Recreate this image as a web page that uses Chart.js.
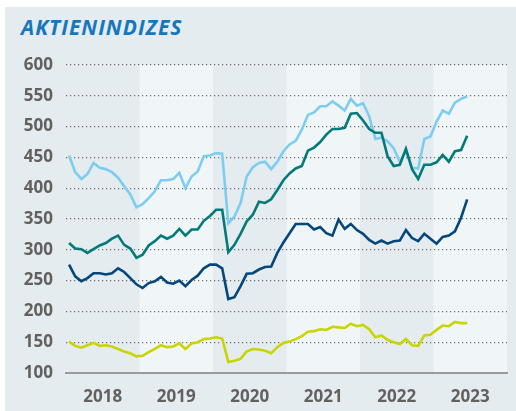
<!DOCTYPE html>
<html lang="de">
<head>
  <meta charset="UTF-8" />
  <title>Aktienindizes</title>
  <script src="https://cdn.jsdelivr.net/npm/chart.js"></script>
  <style>
    html, body { margin: 0; padding: 0; background: #ffffff; }
    body { width: 516px; height: 411px; position: relative; overflow: hidden; }
    .panel {
      position: absolute;
      left: 5px; top: 7px;
      width: 511px; height: 404px;
      background: #e4ecf0;
    }
    h1 {
      position: absolute;
      left: 21px; top: 17px;
      margin: 0;
      font: italic bold 21px "Open Sans", sans-serif;
      line-height: 21px;
      letter-spacing: 1px;
      color: #1677bd;
    }
    #chart { position: absolute; left: 0; top: 0; }
  </style>
</head>
<body>
  <div class="panel"></div>
  <h1>AKTIENINDIZES</h1>
  <canvas id="chart" width="516" height="411"></canvas>

  <script>
    // Monatswerte Jan 2018 bis Jun 2023
    const jahre = ["2018", "2019", "2020", "2021", "2022", "2023"];

    const hellblau = [
      453, 426, 415, 423, 441, 433, 431, 426, 417, 403, 390, 369,
      374, 384, 395, 413, 413, 415, 425, 400, 419, 427, 452, 453,
      457, 456, 343, 354, 376, 419, 434, 441, 443, 431, 443, 460,
      471, 477, 495, 519, 523, 533, 533, 541, 534, 526, 545, 534,
      538, 517, 480, 482, 476, 465, 443, 460, 433, 432, 480, 484,
      508, 526, 521, 539, 545, 549
    ];
    const petrol = [
      311, 302, 301, 295, 301, 307, 311, 318, 323, 308, 302, 287,
      292, 307, 314, 323, 318, 323, 334, 323, 333, 333, 347, 355,
      365, 365, 296, 308, 326, 346, 357, 378, 376, 382, 397, 413,
      424, 432, 436, 461, 466, 475, 487, 496, 496, 498, 521, 522,
      510, 496, 490, 490, 452, 436, 438, 464, 431, 415, 438, 438,
      442, 454, 443, 460, 462, 485
    ];
    const dunkelblau = [
      276, 257, 249, 254, 262, 262, 260, 262, 270, 264, 254, 244,
      238, 246, 249, 256, 247, 245, 250, 241, 251, 258, 270, 276,
      276, 270, 220, 223, 241, 261, 262, 268, 272, 273, 295, 312,
      327, 342, 342, 342, 333, 337, 327, 323, 349, 334, 342, 332,
      326, 316, 310, 315, 310, 314, 315, 332, 319, 314, 326, 318,
      310, 321, 323, 330, 352, 382
    ];
    const gelbgruen = [
      151, 144, 141, 145, 149, 144, 145, 143, 139, 135, 132, 127,
      128, 134, 139, 145, 142, 143, 148, 139, 148, 150, 155, 156,
      158, 156, 118, 120, 123, 135, 139, 138, 136, 132, 142, 149,
      151, 155, 160, 167, 168, 171, 170, 175, 174, 173, 180, 176,
      178, 171, 158, 161, 154, 150, 147, 155, 145, 144, 161, 162,
      170, 177, 176, 183, 181, 181
    ];

    const yTicks = [100, 150, 200, 250, 300, 350, 400, 450, 500, 550, 600];

    // Monat i liegt in der Mitte seines Feldes
    const punkte = werte => werte.map((v, i) => ({ x: i + 0.5, y: v }));

    const linie = (werte, farbe) => ({
      data: punkte(werte),
      borderColor: farbe,
      borderWidth: 2.6,
      pointRadius: 0,
      tension: 0,
      fill: false
    });

    // helle Hintergrundstreifen für jedes zweite Jahr
    const jahresStreifen = {
      id: "jahresStreifen",
      beforeDraw(chart) {
        const { ctx, chartArea, scales } = chart;
        ctx.save();
        ctx.fillStyle = "#f0f6f7";
        jahre.forEach((j, k) => {
          if (k % 2 === 1) {
            const x0 = scales.x.getPixelForValue(k * 12);
            const x1 = scales.x.getPixelForValue((k + 1) * 12);
            ctx.fillRect(x0, chartArea.top, x1 - x0, chartArea.bottom - chartArea.top);
          }
        });
        ctx.restore();
      }
    };

    const schrift = { family: "'Open Sans', sans-serif", size: 17, weight: "bold" };

    new Chart(document.getElementById("chart"), {
      type: "line",
      data: {
        datasets: [
          linie(dunkelblau, "#05467d"),
          linie(petrol, "#037a79"),
          linie(hellblau, "#7dcdf0"),
          linie(gelbgruen, "#c9d500")
        ]
      },
      options: {
        responsive: false,
        animation: false,
        devicePixelRatio: 1,
        layout: { padding: { top: 65, right: 9, left: 0, bottom: 0 } },
        plugins: { legend: { display: false }, tooltip: { enabled: false } },
        scales: {
          x: {
            type: "linear",
            min: 0,
            max: jahre.length * 12,
            afterBuildTicks: scale => {
              scale.ticks = jahre.map((j, k) => ({ value: k * 12 + 6 }));
            },
            afterFit: scale => { scale.height = 38; },
            ticks: {
              autoSkip: false,
              maxRotation: 0,
              padding: 14,
              color: "#616161",
              font: schrift,
              callback: v => jahre[Math.round((v - 6) / 12)]
            },
            grid: { display: false, drawTicks: false },
            border: { display: true, color: "#9a9a9a", width: 2 }
          },
          y: {
            min: 100,
            max: 600,
            afterBuildTicks: scale => {
              scale.ticks = yTicks.map(v => ({ value: v }));
            },
            afterFit: scale => { scale.width = 66; },
            ticks: { padding: 13, color: "#616161", font: schrift },
            grid: {
              drawTicks: false,
              lineWidth: 1.2,
              color: c => (c.tick && c.tick.value === 100 ? "rgba(0,0,0,0)" : "#6f6f6f")
            },
            border: { display: false, dash: [1.2, 2.8] }
          }
        }
      },
      plugins: [jahresStreifen]
    });
  </script>
</body>
</html>
